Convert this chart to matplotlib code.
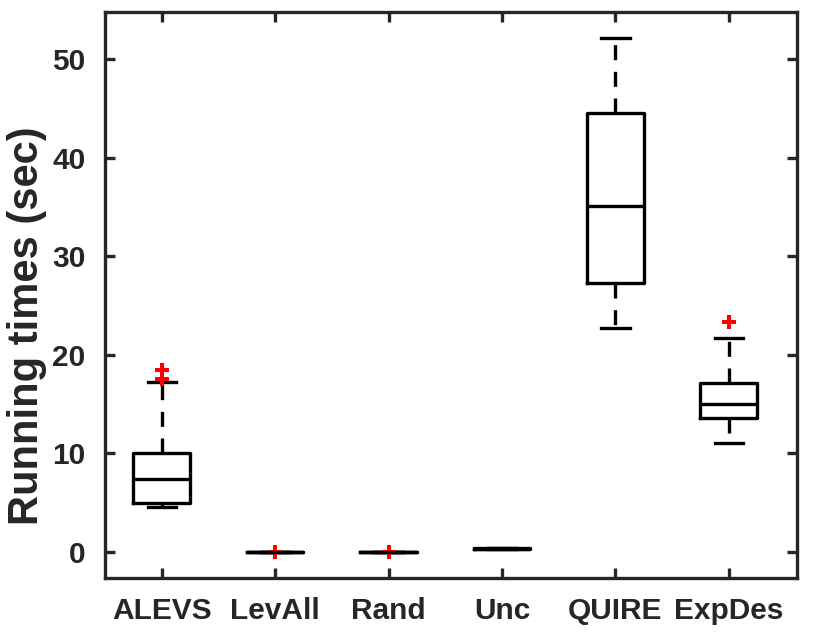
import numpy as np
import matplotlib
matplotlib.use('Agg')
import matplotlib.pyplot as plt

plt.rcParams['font.family'] = ['Liberation Sans', 'DejaVu Sans']
plt.rcParams['font.weight'] = 'bold'

methods = ['ALEVS', 'LevAll', 'Rand', 'Unc', 'QUIRE', 'ExpDes']
whislo = [4.55, 0.0, 0.0, 0.3, 22.7, 11.05]
q1 = [4.97, 0.0, 0.0, 0.3, 27.3, 13.6]
med = [7.4, 0.0, 0.0, 0.3, 35.1, 15.0]
q3 = [10.05, 0.0, 0.0, 0.35, 44.6, 17.1]
whishi = [17.25, 0.0, 0.0, 0.35, 52.2, 21.7]
fliers = [[17.6, 18.45], [0.0], [0.0], [], [], [23.3]]

stats = []
for i, m in enumerate(methods):
    stats.append(dict(label=m, whislo=whislo[i], q1=q1[i], med=med[i],
                      q3=q3[i], whishi=whishi[i], fliers=fliers[i]))

fig = plt.figure(figsize=(8.3, 6.4), dpi=100)
ax = fig.add_axes([0.1265, 0.097, 0.8335, 0.884])

lw = 2.4
ax.bxp(stats, positions=range(1, 7), widths=0.5, capwidths=0.25,
       boxprops=dict(color='black', linewidth=lw),
       medianprops=dict(color='black', linewidth=lw),
       whiskerprops=dict(color='black', linewidth=lw, linestyle=(0, (4.5, 3.5))),
       capprops=dict(color='black', linewidth=lw),
       flierprops=dict(marker='P', markerfacecolor='red', markeredgecolor='red',
                       markersize=10, markeredgewidth=0, linestyle='none'))

ax.set_xlim(0.5, 6.6)
ax.set_ylim(-2.64, 54.8)
ax.set_yticks([0, 10, 20, 30, 40, 50])
ax.set_ylabel('Running times (sec)', fontsize=30, fontweight='bold', color='#262626')
ax.yaxis.set_label_coords(-0.084, 0.445)

for s in ax.spines.values():
    s.set_linewidth(2.4)
    s.set_color('#262626')
ax.tick_params(direction='in', length=7, width=2.4, labelsize=21.5, colors='#262626',
               top=True, right=True)
ax.tick_params(axis='y', pad=14)
ax.tick_params(axis='x', pad=14)
for lab in ax.get_xticklabels() + ax.get_yticklabels():
    lab.set_fontweight('bold')

fig.savefig('out.png', dpi=100)
